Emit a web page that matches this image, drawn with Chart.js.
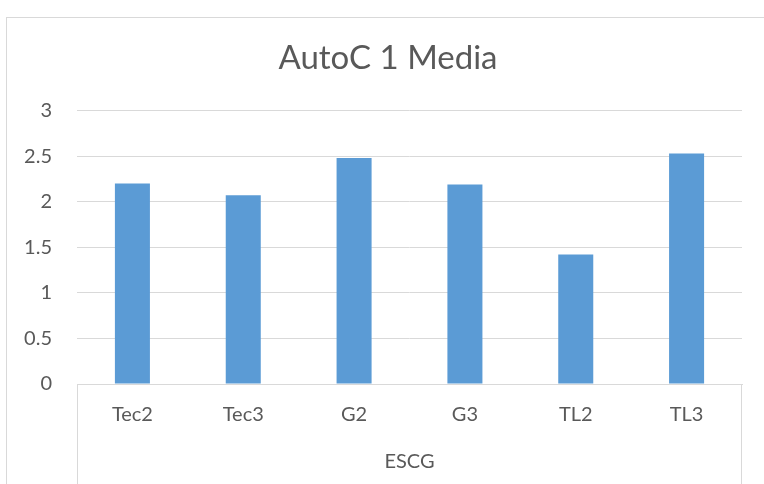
<!DOCTYPE html>
<html>
<head>
<meta charset="utf-8">
<script src="https://cdn.jsdelivr.net/npm/chart.js@4/dist/chart.umd.min.js"></script>
<style>
  html, body { margin: 0; padding: 0; background: #ffffff; }
  #wrap { width: 764px; height: 484px; position: relative; }
</style>
</head>
<body>
<div id="wrap"><canvas id="c" width="764" height="484"></canvas></div>
<script>
// Category labels, group label and mean values per category
const categories = ['Tec2', 'Tec3', 'G2', 'G3', 'TL2', 'TL3'];
const groupLabel = 'ESCG';
const means = [2.2, 2.07, 2.48, 2.19, 1.42, 2.53];
const yTicks = [0, 0.5, 1, 1.5, 2, 2.5, 3];

const textColor = '#595959';
const lineColor = '#d9d9d9';
const fontFamily = 'Lato, "Open Sans", "Liberation Sans", sans-serif';

// Outer frame and the group separators of the two-level category axis
const framePlugin = {
  id: 'frame',
  beforeDraw(chart) {
    const ctx = chart.ctx;
    ctx.save();
    ctx.fillStyle = '#ffffff';
    ctx.fillRect(0, 0, chart.width, chart.height);
    ctx.strokeStyle = lineColor;
    ctx.lineWidth = 1;
    ctx.strokeRect(6.5, 17.5, chart.width + 20, chart.height + 20);
    ctx.restore();
  },
  afterDraw(chart) {
    const ctx = chart.ctx;
    const a = chart.chartArea;
    ctx.save();
    ctx.strokeStyle = lineColor;
    ctx.lineWidth = 1;
    [Math.round(a.left) + 0.5, Math.round(a.right) - 0.5].forEach(x => {
      ctx.beginPath();
      ctx.moveTo(x, a.bottom);
      ctx.lineTo(x, chart.height);
      ctx.stroke();
    });
    ctx.restore();
  }
};

new Chart(document.getElementById('c'), {
  type: 'bar',
  data: {
    labels: categories,
    datasets: [{
      data: means,
      backgroundColor: '#5b9bd5',
      borderWidth: 0,
      barPercentage: 0.316,
      categoryPercentage: 1
    }]
  },
  options: {
    responsive: false,
    animation: false,
    layout: { padding: { left: 12, right: 0, top: 0, bottom: 0 } },
    plugins: {
      legend: { display: false },
      tooltip: { enabled: false },
      title: {
        display: true,
        text: 'AutoC 1 Media',
        color: textColor,
        font: { family: fontFamily, size: 33, weight: 'normal' },
        padding: { top: 39, bottom: 32 }
      }
    },
    scales: {
      y: {
        min: 0,
        max: 3,
        afterBuildTicks(scale) { scale.ticks = yTicks.map(v => ({ value: v })); },
        afterFit(scale) { scale.width = 65; },
        border: { display: false },
        grid: { color: lineColor, lineWidth: 1, drawTicks: false },
        ticks: {
          color: textColor,
          padding: 25,
          font: { family: fontFamily, size: 20 },
          callback: v => String(v)
        }
      },
      // empty right-hand margin of the plot area
      yRight: {
        position: 'right',
        min: 0,
        max: 3,
        afterFit(scale) { scale.width = 22; },
        border: { display: false },
        grid: { display: false, drawTicks: false },
        ticks: { display: false }
      },
      x: {
        afterFit(scale) { scale.height = 100; },
        border: { display: true, color: lineColor, width: 1 },
        grid: { display: false, drawTicks: false },
        ticks: {
          color: textColor,
          padding: 19,
          font: { family: fontFamily, size: 20 }
        },
        title: {
          display: true,
          text: groupLabel,
          color: textColor,
          font: { family: fontFamily, size: 20 },
          padding: { top: 0, bottom: 10 }
        }
      }
    }
  },
  plugins: [framePlugin]
});
</script>
</body>
</html>
